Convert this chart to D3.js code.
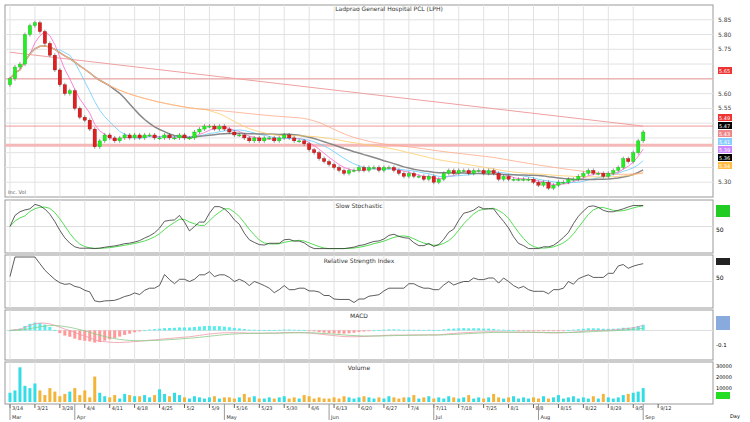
<!DOCTYPE html><html><head><meta charset="utf-8">
<script src="https://cdn.jsdelivr.net/npm/d3@7"></script>
<style>body{margin:0;background:#fff}svg{font-family:"DejaVu Sans",sans-serif}</style></head><body>
<svg id="c" width="750" height="422"></svg>
<script>
const title="Ladprao General Hospital PCL (LPH)";
const closes=[5.65,5.69,5.70,5.80,5.83,5.84,5.81,5.77,5.73,5.68,5.63,5.60,5.61,5.55,5.52,5.51,5.48,5.42,5.44,5.46,5.45,5.44,5.45,5.46,5.45,5.46,5.45,5.46,5.46,5.45,5.45,5.46,5.45,5.45,5.46,5.45,5.45,5.47,5.48,5.49,5.49,5.48,5.49,5.48,5.47,5.46,5.46,5.45,5.44,5.45,5.44,5.45,5.45,5.44,5.45,5.46,5.45,5.44,5.44,5.43,5.41,5.40,5.38,5.37,5.36,5.35,5.34,5.33,5.34,5.34,5.35,5.34,5.35,5.35,5.34,5.35,5.35,5.34,5.33,5.32,5.33,5.32,5.32,5.31,5.32,5.30,5.31,5.33,5.34,5.33,5.34,5.34,5.33,5.34,5.34,5.33,5.34,5.33,5.31,5.32,5.31,5.31,5.31,5.31,5.31,5.30,5.29,5.30,5.28,5.29,5.30,5.30,5.31,5.31,5.32,5.33,5.34,5.33,5.33,5.32,5.33,5.34,5.35,5.38,5.37,5.40,5.44,5.47];
const volumes=[8,10,30,14,12,16,10,6,12,9,5,7,9,12,6,10,4,22,8,5,4,6,3,7,6,5,5,6,4,6,11,7,5,8,6,4,3,5,4,3,4,5,3,4,4,3,4,7,4,5,3,3,4,3,4,5,3,4,3,6,5,3,4,3,3,4,3,5,4,3,4,5,4,3,4,3,5,4,3,4,4,6,3,4,5,3,4,3,5,4,3,4,6,3,4,3,4,7,4,3,4,5,3,4,3,4,3,5,3,4,6,3,4,5,3,4,3,5,3,7,4,3,4,6,7,8,9,12];
const priceTicks=[5.30,5.35,5.40,5.45,5.50,5.55,5.60,5.65,5.70,5.75,5.80,5.85];
const levels=[5.65,5.49,5.425];
const trend=[[0,5.74],[127,5.49]];
const dateLabels=["3/14","3/21","3/28","4/4","4/11","4/18","4/25","5/2","5/9","5/16","5/23","5/30","6/6","6/13","6/20","6/27","7/4","7/11","7/18","7/25","8/1","8/8","8/15","8/22","8/29","9/5","9/12"];
const monthLabels=[["Mar",0],["Apr",13],["May",43],["Jun",64],["Jul",85],["Aug",106],["Sep",127]];
const boxes=[["5.65","#e33"],["5.49","#e33"],["5.47","#000"],["5.43","#e88"],["5.41","#8cf"],["5.39","#c8f"],["5.36","#000"],["5.34","#fb4"]];
const boxY=[71,118,126,134,142,150,158,166];

const svg=d3.select("#c");
const L=5,R=713,n=closes.length;
const x=d3.scaleLinear().domain([-1,141]).range([L,R]);
const panels={main:[5,197],sto:[200,253],rsi:[255,308],macd:[310,360],vol:[362,404]};
svg.append("rect").attr("width",750).attr("height",422).attr("fill","#fff");
function frame(p,tt){const [a,b]=panels[p];
 svg.append("rect").attr("x",L).attr("y",a).attr("width",R-L).attr("height",b-a).attr("fill","#fff").attr("stroke","#999");
 for(let i=0;i<n;i+=5)svg.append("line").attr("x1",x(i)).attr("x2",x(i)).attr("y1",a).attr("y2",b).attr("stroke","#e2e2e2");
 if(tt)svg.append("text").attr("x",(L+R)/2).attr("y",a+8).attr("text-anchor","middle").attr("font-size",6).attr("fill","#333").text(tt);}
frame("main");
const y=d3.scaleLinear().domain([5.25,5.90]).range([197,5]);
priceTicks.forEach(t=>{svg.append("line").attr("x1",L).attr("x2",R).attr("y1",y(t)).attr("y2",y(t)).attr("stroke","#e2e2e2");
 if(boxY.every(b=>Math.abs(b-y(t))>8))svg.append("text").attr("x",718).attr("y",y(t)+2).attr("font-size",6).attr("fill","#444").text(t.toFixed(2));});
svg.append("text").attr("x",(L+R)/2+30).attr("y",11).attr("text-anchor","middle").attr("font-size",6).attr("fill","#333").text(title);
levels.forEach((v,i)=>svg.append("line").attr("x1",L).attr("x2",R).attr("y1",y(v)).attr("y2",y(v)).attr("stroke",i==2?"#f4b8b8":"#ee9a9a").attr("stroke-width",i==2?3:1));
svg.append("line").attr("x1",x(trend[0][0])).attr("y1",y(trend[0][1])).attr("x2",x(trend[1][0])).attr("y2",y(trend[1][1])).attr("stroke","#f0a0a0");
function sma(k){return closes.map((_,i)=>{const s=closes.slice(Math.max(0,i-k+1),i+1);return d3.mean(s)});}
[[5,"#ff66cc"],[10,"#66ccff"],[20,"#888"],[40,"#ffcc66"],[60,"#ffaa88"]].forEach(([k,c])=>{
 svg.append("path").attr("d",d3.line().x((d,i)=>x(i)).y(d=>y(d))(sma(k))).attr("fill","none").attr("stroke",c).attr("stroke-width",k==20?1.5:0.8);});
closes.forEach((c,i)=>{const o=i?closes[i-1]:c-0.02;const up=c>=o;
 svg.append("line").attr("x1",x(i)).attr("x2",x(i)).attr("y1",y(Math.max(o,c))-2).attr("y2",y(Math.min(o,c))+2).attr("stroke","#555").attr("stroke-width",0.6);
 const t=y(Math.max(o,c)),h=Math.max(1,Math.abs(y(o)-y(c)));
 svg.append("rect").attr("x",x(i)-1.7).attr("y",t).attr("width",3.4).attr("height",h).attr("fill",up?"#22ee22":"#e02020").attr("stroke",up?"#1a1":"#800").attr("stroke-width",0.3);});
boxes.forEach(([t,c],i)=>{const yy=boxY[i];
 svg.append("rect").attr("x",718).attr("y",yy-4).attr("width",14).attr("height",7).attr("fill",c);
 svg.append("text").attr("x",719).attr("y",yy+1.8).attr("font-size",5).attr("fill","#fff").text(t);});
svg.append("text").attr("x",8).attr("y",194).attr("font-size",5).attr("fill","#555").text("Inc. Vol");
frame("sto","Slow Stochastic");
const K=closes.map((c,i)=>{const s=closes.slice(Math.max(0,i-13),i+1);const lo=d3.min(s),hi=d3.max(s);return hi>lo?100*(c-lo)/(hi-lo):50;});
const Ks=K.map((_,i)=>d3.mean(K.slice(Math.max(0,i-4),i+1)));const Ds=Ks.map((_,i)=>d3.mean(Ks.slice(Math.max(0,i-3),i+1)));
const ys=d3.scaleLinear().domain([-10,110]).range([253,200]);
svg.append("line").attr("x1",L).attr("x2",R).attr("y1",ys(50)).attr("y2",ys(50)).attr("stroke","#ddd");
svg.append("path").attr("d",d3.line().x((d,i)=>x(i)).y(ys)(Ds)).attr("fill","none").attr("stroke","#5d5");
svg.append("path").attr("d",d3.line().x((d,i)=>x(i)).y(ys)(Ks)).attr("fill","none").attr("stroke","#333").attr("stroke-width",0.8);
svg.append("rect").attr("x",716).attr("y",205).attr("width",14).attr("height",12).attr("fill","#2c2");
svg.append("text").attr("x",716).attr("y",232).attr("font-size",6).text("50");
frame("rsi","Relative Strength Index");
const rsi=closes.map((c,i)=>{if(i<1)return 60;const s=closes.slice(Math.max(0,i-14),i+1);let g=0,l=0;for(let j=1;j<s.length;j++){const d=s[j]-s[j-1];d>0?g+=d:l-=d;}return g+l?100*g/(g+l):50;});
const yr=d3.scaleLinear().domain([0,100]).range([306,257]);
svg.append("line").attr("x1",L).attr("x2",R).attr("y1",yr(50)).attr("y2",yr(50)).attr("stroke","#ddd");
svg.append("path").attr("d",d3.line().x((d,i)=>x(i)).y(yr)(rsi)).attr("fill","none").attr("stroke","#333").attr("stroke-width",0.8);
svg.append("rect").attr("x",716).attr("y",258).attr("width",14).attr("height",7).attr("fill","#222");
svg.append("text").attr("x",716).attr("y",280).attr("font-size",6).text("50");
frame("macd","MACD");
const ema=(a,k)=>{const al=2/(k+1);let e=a[0];return a.map(v=>e=al*v+(1-al)*e);};
const m=ema(closes,12).map((v,i)=>v-ema(closes,26)[i]);const sg=ema(m,9);const hist=m.map((v,i)=>v-sg[i]);
const ym=d3.scaleLinear().domain([-0.15,0.1]).range([358,312]);
svg.append("line").attr("x1",L).attr("x2",R).attr("y1",ym(0)).attr("y2",ym(0)).attr("stroke","#ddd");
hist.forEach((h,i)=>svg.append("rect").attr("x",x(i)-1.5).attr("width",3).attr("y",Math.min(ym(0),ym(h*2))).attr("height",Math.max(0.8,Math.abs(ym(h*2)-ym(0)))).attr("fill",h>=0?"#5ee":"#f99"));
svg.append("path").attr("d",d3.line().x((d,i)=>x(i)).y(ym)(m)).attr("fill","none").attr("stroke","#e9a").attr("stroke-width",0.8);
svg.append("path").attr("d",d3.line().x((d,i)=>x(i)).y(ym)(sg)).attr("fill","none").attr("stroke","#8c8").attr("stroke-width",0.8);
svg.append("rect").attr("x",716).attr("y",316).attr("width",14).attr("height",14).attr("fill","#8ad");
svg.append("text").attr("x",716).attr("y",347).attr("font-size",5.5).text("-0.1");
frame("vol","Volume");
const yv=d3.scaleLinear().domain([0,32]).range([402,365]);
volumes.forEach((v,i)=>{const up=!i||closes[i]>=closes[i-1];svg.append("rect").attr("x",x(i)-1.5).attr("width",3).attr("y",yv(v)).attr("height",yv(0)-yv(v)).attr("fill",up?"#33dde6":"#f3b43a");});
["30000","20000","10000"].forEach((t,i)=>svg.append("text").attr("x",716).attr("y",[368,379,390][i]).attr("font-size",5).text(t));
svg.append("rect").attr("x",716).attr("y",392).attr("width",14).attr("height",7).attr("fill","#2d2");
dateLabels.forEach((t,i)=>{svg.append("line").attr("x1",x(i*5)).attr("x2",x(i*5)).attr("y1",404).attr("y2",408).attr("stroke","#666");
 svg.append("text").attr("x",x(i*5)+2).attr("y",410).attr("font-size",5).attr("fill","#333").text(t);});
monthLabels.forEach(([t,i])=>{svg.append("line").attr("x1",x(i)).attr("x2",x(i)).attr("y1",404).attr("y2",420).attr("stroke","#999");
 svg.append("text").attr("x",x(i)+2).attr("y",419).attr("font-size",5).attr("fill","#333").text(t);});
svg.append("text").attr("x",730).attr("y",418).attr("font-size",5).text("Day");
</script></body></html>
